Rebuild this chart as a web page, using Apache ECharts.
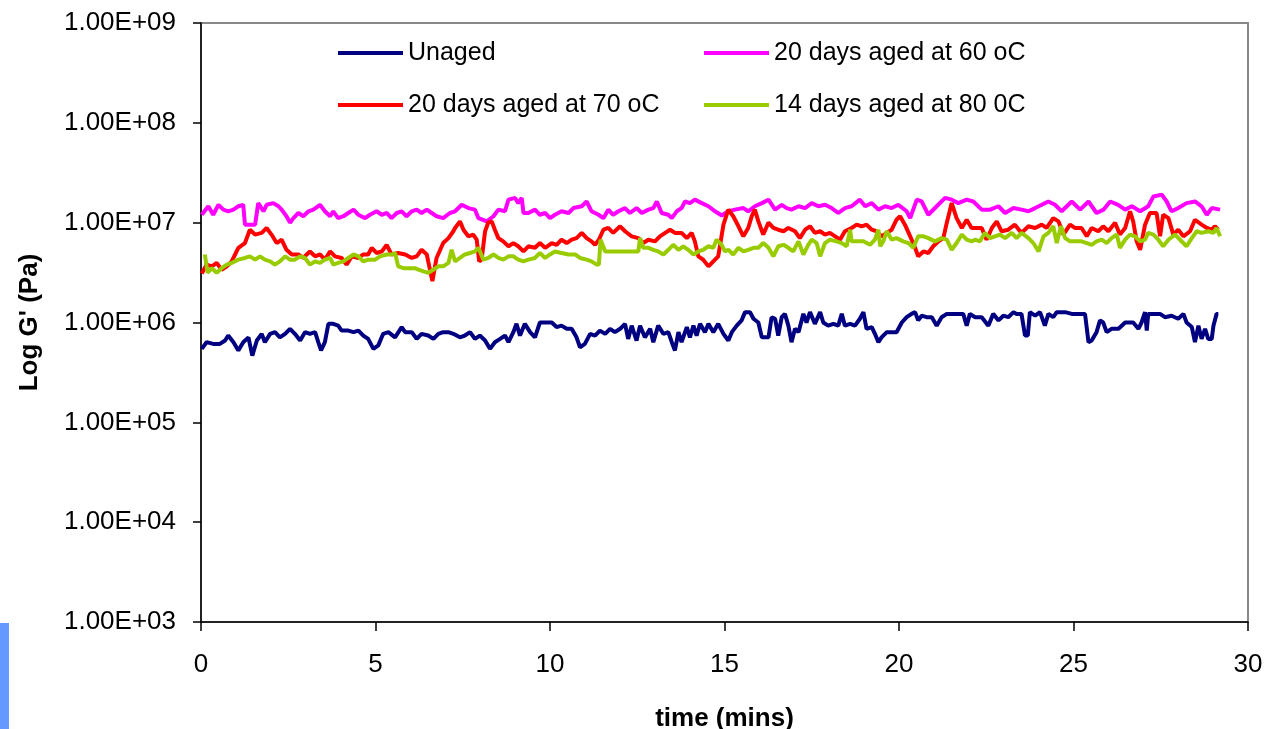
<!DOCTYPE html>
<html><head><meta charset="utf-8">
<script src="https://cdn.jsdelivr.net/npm/echarts@6/dist/echarts.min.js"></script>
<style>html,body{margin:0;padding:0;background:#fff}#c{width:1267px;height:729px}</style>
</head><body><div id="c"></div>
<script>
const seriesNames = ['Unaged', '20 days aged at 60 oC', '20 days aged at 70 oC', '14 days aged at 80 0C'];
const xTicks = [0, 5, 10, 15, 20, 25, 30];
const yTickLabels = {3:'1.00E+03',4:'1.00E+04',5:'1.00E+05',6:'1.00E+06',7:'1.00E+07',8:'1.00E+08',9:'1.00E+09'};

const unaged = [[0.02,5.45e5],[0.16,6.35e5],[0.35,6.1e5],[0.54,6.1e5],[0.69,6.6e5],[0.78,7.4e5],[0.93,6.35e5],[1.07,5.25e5],[1.21,6.35e5],[1.36,7.1e5],[1.47,4.65e5],[1.60,6.6e5],[1.74,7.7e5],[1.83,6.35e5],[1.98,7.7e5],[2.12,8.0e5],[2.26,7.1e5],[2.41,7.7e5],[2.55,8.65e5],[2.69,7.7e5],[2.84,6.6e5],[2.98,8.0e5],[3.12,7.7e5],[3.27,8.0e5],[3.36,6.35e5],[3.44,5.25e5],[3.55,6.35e5],[3.65,9.7e5],[3.79,9.7e5],[3.93,9.3e5],[4.03,8.3e5],[4.22,8.3e5],[4.37,8.0e5],[4.51,8.3e5],[4.65,7.4e5],[4.79,6.85e5],[4.94,5.45e5],[5.08,5.9e5],[5.22,7.7e5],[5.37,8.0e5],[5.56,7.1e5],[5.75,9.0e5],[5.85,8.0e5],[6.04,8.0e5],[6.18,6.85e5],[6.32,7.7e5],[6.51,7.4e5],[6.66,6.85e5],[6.80,7.7e5],[6.94,8.0e5],[7.09,8.0e5],[7.23,7.7e5],
[7.28,8.0e5],[7.42,7.1e5],[7.56,7.4e5],[7.71,8.0e5],[7.85,6.85e5],[7.99,7.4e5],[8.14,6.6e5],[8.28,5.45e5],[8.42,6.35e5],[8.57,6.85e5],[8.71,7.4e5],[8.81,6.35e5],[8.95,8.0e5],[9.04,9.7e5],[9.14,7.4e5],[9.28,9.7e5],[9.43,8.0e5],[9.57,7.1e5],[9.71,1.0e6],[9.86,1.0e6],[10.05,1.0e6],[10.19,9.0e5],[10.33,9.3e5],[10.48,8.65e5],[10.62,8.65e5],[10.76,7.1e5],[10.86,5.65e5],[11.0,6.1e5],[11.15,7.7e5],[11.29,7.4e5],[11.43,8.3e5],[11.58,7.7e5],[11.72,8.65e5],[11.86,8.0e5],[12.01,8.65e5],[12.15,9.7e5],[12.24,6.85e5],[12.34,9.3e5],[12.48,6.6e5],[12.58,9.3e5],[12.72,7.1e5],[12.87,8.65e5],[12.96,6.35e5],[13.10,9.3e5],[13.25,7.7e5],[13.39,8.0e5],[13.49,6.35e5],[13.58,5.25e5],[13.68,8.0e5],[13.77,6.35e5],[13.92,9.0e5],[14.01,7.1e5],[14.11,9.3e5],[14.20,7.4e5],[14.30,9.7e5],[14.44,8.0e5],[14.54,9.7e5],[14.68,8.0e5],[14.82,9.7e5],
[14.97,7.7e5],[15.11,6.6e5],[15.21,8.0e5],[15.35,9.3e5],[15.49,1.05e6],[15.59,1.27e6],[15.73,1.27e6],[15.83,1.09e6],[15.97,1.0e6],[16.07,7.1e5],[16.26,7.1e5],[16.35,1.13e6],[16.45,1.09e6],[16.54,7.4e5],[16.64,1.13e6],[16.73,1.22e6],[16.83,9.3e5],[16.92,6.35e5],[17.02,8.65e5],[17.12,8.0e5],[17.26,1.22e6],[17.35,1.0e6],[17.45,1.27e6],[17.59,9.7e5],[17.74,1.27e6],[17.83,1.0e6],[17.97,9.3e5],[18.12,9.7e5],[18.26,9.3e5],[18.36,1.22e6],[18.45,9.3e5],[18.60,9.7e5],[18.74,9.3e5],[18.88,1.09e6],[18.98,1.27e6],[19.07,8.65e5],[19.22,9.0e5],[19.31,7.7e5],[19.41,6.35e5],[19.50,7.1e5],[19.65,8.0e5],[19.79,8.0e5],[19.93,8.0e5],[20.08,1.0e6],[20.22,1.13e6],[20.36,1.22e6],[20.46,1.27e6],[20.55,1.05e6],[20.65,1.17e6],[20.79,1.13e6],[20.94,1.13e6],[21.08,9.3e5],[21.22,1.13e6],[21.37,1.22e6],[21.51,1.22e6],[21.70,1.22e6],[21.84,1.22e6],[21.94,9.3e5],[22.03,1.22e6],
[22.18,1.13e6],[22.37,1.13e6],[22.56,9.3e5],[22.70,1.22e6],[22.85,1.05e6],[22.99,1.17e6],[23.13,1.13e6],[23.28,1.27e6],[23.37,1.22e6],[23.51,1.22e6],[23.61,7.4e5],[23.69,7.4e5],[23.75,1.27e6],[23.90,1.17e6],[24.04,1.27e6],[24.18,9.3e5],[24.28,1.22e6],[24.42,1.13e6],[24.52,1.27e6],[24.76,1.27e6],[24.95,1.22e6],[25.33,1.22e6],[25.43,6.35e5],[25.52,6.6e5],[25.66,8.0e5],[25.76,1.05e6],[25.85,1.0e6],[25.95,8.0e5],[26.09,8.65e5],[26.29,8.65e5],[26.48,1.0e6],[26.71,1.0e6],[26.86,8.65e5],[26.95,1.0e6],[27.05,1.27e6],[27.10,8.3e5],[27.14,1.22e6],[27.38,1.22e6],[27.48,1.22e6],[27.62,1.13e6],[27.81,1.17e6],[28.0,1.09e6],[28.15,1.22e6],[28.24,1.0e6],[28.39,9.0e5],[28.48,6.35e5],[28.58,9.3e5],[28.67,6.85e5],[28.77,8.65e5],[28.86,6.85e5],[28.96,6.85e5],[29.01,9.3e5],[29.10,1.22e6],[29.15,1.22e6]];

const aged60 = [[0.02,1.20e7],[0.21,1.46e7],[0.35,1.20e7],[0.50,1.51e7],[0.64,1.35e7],[0.78,1.30e7],[0.93,1.35e7],[1.07,1.46e7],[1.21,1.51e7],[1.26,0.955e7],[1.55,0.955e7],[1.64,1.57e7],[1.79,1.30e7],[1.88,1.51e7],[2.07,1.57e7],[2.22,1.46e7],[2.31,1.35e7],[2.45,1.16e7],[2.55,1.0e7],[2.65,1.11e7],[2.79,1.25e7],[2.93,1.16e7],[3.08,1.30e7],[3.22,1.35e7],[3.41,1.51e7],[3.55,1.30e7],[3.70,1.16e7],[3.79,1.30e7],[3.93,1.11e7],[4.08,1.16e7],[4.22,1.25e7],[4.37,1.35e7],[4.51,1.20e7],[4.70,1.11e7],[4.84,1.20e7],[5.03,1.30e7],[5.18,1.20e7],[5.32,1.25e7],[5.46,1.11e7],[5.61,1.25e7],[5.75,1.30e7],[5.89,1.16e7],[6.04,1.30e7],[6.18,1.35e7],[6.32,1.25e7],[6.47,1.35e7],[6.61,1.25e7],[6.75,1.16e7],[6.94,1.11e7],[7.13,1.25e7],[7.28,1.30e7],
[7.47,1.51e7],[7.66,1.40e7],[7.85,1.35e7],[7.95,1.11e7],[8.19,1.03e7],[8.38,1.16e7],[8.52,1.35e7],[8.71,1.30e7],[8.81,1.70e7],[9.0,1.77e7],[9.09,1.57e7],[9.19,1.77e7],[9.24,1.25e7],[9.38,1.25e7],[9.57,1.35e7],[9.71,1.20e7],[9.86,1.25e7],[10.0,1.11e7],[10.14,1.20e7],[10.33,1.30e7],[10.53,1.25e7],[10.67,1.40e7],[10.91,1.46e7],[11.05,1.63e7],[11.19,1.30e7],[11.39,1.20e7],[11.53,1.11e7],[11.67,1.35e7],[11.81,1.20e7],[11.96,1.30e7],[12.15,1.40e7],[12.29,1.25e7],[12.48,1.40e7],[12.63,1.25e7],[12.82,1.35e7],[12.96,1.40e7],[13.06,1.63e7],[13.20,1.25e7],[13.39,1.20e7],[13.49,1.11e7],[13.63,1.30e7],[13.77,1.40e7],[13.87,1.63e7],[14.01,1.57e7],[14.15,1.70e7],[14.35,1.57e7],[14.54,1.46e7],[14.73,1.30e7],[14.92,1.18e7],
[15.11,1.30e7],[15.30,1.35e7],[15.54,1.40e7],[15.68,1.30e7],[15.87,1.46e7],[16.07,1.57e7],[16.26,1.70e7],[16.45,1.35e7],[16.64,1.51e7],[16.78,1.40e7],[16.92,1.35e7],[17.12,1.46e7],[17.31,1.40e7],[17.50,1.57e7],[17.69,1.46e7],[17.88,1.51e7],[18.07,1.40e7],[18.26,1.25e7],[18.45,1.40e7],[18.64,1.46e7],[18.88,1.70e7],[19.03,1.46e7],[19.22,1.57e7],[19.41,1.35e7],[19.60,1.46e7],[19.79,1.40e7],[19.98,1.51e7],[20.22,1.30e7],[20.32,1.11e7],[20.51,1.70e7],[20.65,1.63e7],[20.84,1.20e7],[21.08,1.46e7],[21.32,1.77e7],[21.51,1.70e7],[21.70,1.57e7],[21.94,1.70e7],[22.13,1.63e7],
[22.37,1.35e7],[22.61,1.35e7],[22.85,1.46e7],[23.04,1.25e7],[23.28,1.40e7],[23.51,1.35e7],[23.71,1.30e7],[23.90,1.40e7],[24.09,1.51e7],[24.28,1.63e7],[24.47,1.51e7],[24.66,1.30e7],[24.95,1.63e7],[25.19,1.35e7],[25.43,1.63e7],[25.66,1.25e7],[25.86,1.35e7],[26.05,1.63e7],[26.28,1.51e7],[26.48,1.35e7],[26.67,1.46e7],[26.91,1.30e7],[27.14,1.46e7],[27.29,1.83e7],[27.53,1.91e7],[27.67,1.63e7],[27.81,1.30e7],[28.00,1.40e7],[28.24,1.57e7],[28.48,1.63e7],[28.67,1.46e7],[28.82,1.20e7],[28.96,1.40e7],[29.2,1.35e7]];

const aged70 = [[0.02,3.1e6],[0.16,3.8e6],[0.31,3.65e6],[0.45,3.95e6],[0.59,3.38e6],[0.74,3.65e6],[0.88,4.1e6],[1.07,5.6e6],[1.26,6.25e6],[1.40,8.5e6],[1.55,7.6e6],[1.74,7.9e6],[1.88,8.85e6],[2.02,7.6e6],[2.17,6.25e6],[2.31,6.75e6],[2.45,5.35e6],[2.60,4.8e6],[2.79,4.8e6],[2.93,4.43e6],[3.12,5.15e6],[3.27,4.6e6],[3.41,4.8e6],[3.55,4.26e6],[3.70,5.15e6],[3.84,4.6e6],[4.03,4.43e6],[4.17,3.8e6],[4.32,4.6e6],[4.51,4.43e6],[4.65,4.8e6],[4.79,4.8e6],[4.89,5.6e6],[5.03,4.97e6],[5.18,5.15e6],[5.32,6.0e6],[5.46,4.8e6],[5.65,4.97e6],[5.85,4.8e6],[6.04,4.43e6],[6.18,4.6e6],[6.32,5.35e6],[6.47,4.8e6],[6.51,4.1e6],[6.63,2.6e6],[6.75,4.43e6],[6.94,6.25e6],[7.09,7.0e6],[7.23,8.2e6],
[7.28,8.85e6],[7.42,1.03e7],[7.52,8.5e6],[7.66,7.3e6],[7.80,7.6e6],[7.90,6.75e6],[7.97,4.1e6],[8.04,4.26e6],[8.14,8.2e6],[8.23,1.0e7],[8.33,1.03e7],[8.42,8.5e6],[8.52,7.0e6],[8.66,6.5e6],[8.81,5.8e6],[8.95,6.25e6],[9.09,5.8e6],[9.24,5.15e6],[9.38,5.8e6],[9.57,5.6e6],[9.71,6.25e6],[9.86,5.6e6],[10.05,6.25e6],[10.19,6.0e6],[10.33,6.75e6],[10.48,6.25e6],[10.62,6.75e6],[10.76,7.0e6],[10.91,7.9e6],[11.05,7.0e6],[11.19,6.5e6],[11.29,6.0e6],[11.40,6.75e6],[11.53,8.5e6],[11.67,8.85e6],[11.81,7.9e6],[12.01,9.2e6],[12.15,8.2e6],[12.34,7.3e6],[12.53,7.0e6],[12.67,6.25e6],[12.82,6.75e6],[13.01,6.5e6],[13.15,7.3e6],[13.30,7.9e6],[13.44,8.5e6],[13.58,7.9e6],[13.77,7.9e6],[13.92,7.0e6],[14.06,7.9e6],[14.15,6.5e6],[14.25,4.6e6],[14.39,4.26e6],[14.54,3.65e6],[14.68,4.1e6],[14.82,4.6e6],
[14.97,9.55e6],[15.11,1.35e7],[15.25,1.16e7],[15.40,9.2e6],[15.54,7.3e6],[15.68,8.85e6],[15.78,1.16e7],[15.87,1.35e7],[15.97,1.03e7],[16.11,7.6e6],[16.26,1.0e7],[16.40,8.85e6],[16.54,8.5e6],[16.69,8.2e6],[16.83,8.85e6],[17.02,8.2e6],[17.16,7.0e6],[17.31,8.5e6],[17.45,9.2e6],[17.59,7.9e6],[17.74,8.2e6],[17.88,7.6e6],[18.02,7.9e6],[18.17,7.3e6],[18.31,6.75e6],[18.45,8.2e6],[18.64,8.85e6],[18.79,9.55e6],[18.93,9.2e6],[19.07,9.55e6],[19.22,8.5e6],[19.36,8.2e6],[19.50,7.3e6],[19.65,7.9e6],[19.79,8.5e6],[19.93,1.07e7],[20.03,1.16e7],[20.17,9.55e6],[20.32,7.3e6],[20.46,5.6e6],[20.55,4.6e6],[20.70,5.15e6],[20.84,4.97e6],[20.98,5.8e6],[21.13,6.5e6],[21.27,7.0e6],[21.37,1.0e7],[21.51,1.57e7],[21.65,1.11e7],[21.80,8.85e6],[21.94,1.07e7],[22.08,8.85e6],
[22.18,8.85e6],[22.37,8.85e6],[22.51,6.75e6],[22.66,8.85e6],[22.80,1.03e7],[22.94,8.2e6],[23.13,8.5e6],[23.32,9.55e6],[23.51,7.9e6],[23.71,9.2e6],[23.90,8.85e6],[24.09,9.55e6],[24.23,8.85e6],[24.42,1.11e7],[24.57,1.03e7],[24.71,7.6e6],[24.90,9.55e6],[25.04,8.85e6],[25.23,8.85e6],[25.38,7.3e6],[25.52,8.85e6],[25.71,8.2e6],[25.85,9.2e6],[26.00,8.2e6],[26.19,1.0e7],[26.33,7.6e6],[26.48,8.85e6],[26.62,1.30e7],[26.71,1.03e7],[26.81,6.5e6],[26.91,5.35e6],[27.05,9.55e6],[27.19,1.25e7],[27.38,1.25e7],[27.48,7.3e6],[27.57,1.20e7],[27.72,1.11e7],[27.86,7.6e6],[28.00,8.5e6],[28.15,7.3e6],[28.34,8.2e6],[28.48,1.07e7],[28.67,9.55e6],[28.82,8.85e6],[28.96,8.5e6],[29.05,9.2e6],[29.15,8.5e6]];

const aged80 = [[0.11,4.8e6],[0.19,3.15e6],[0.31,3.5e6],[0.45,3.15e6],[0.59,3.5e6],[0.74,3.8e6],[0.88,3.95e6],[1.07,4.26e6],[1.26,4.43e6],[1.40,4.6e6],[1.55,4.26e6],[1.69,4.6e6],[1.83,4.26e6],[1.98,4.1e6],[2.12,3.8e6],[2.26,4.1e6],[2.41,4.6e6],[2.55,4.26e6],[2.69,4.26e6],[2.84,4.6e6],[2.98,4.43e6],[3.12,3.8e6],[3.27,4.1e6],[3.41,3.95e6],[3.55,4.26e6],[3.70,4.43e6],[3.79,3.8e6],[3.93,3.95e6],[4.08,4.1e6],[4.22,4.43e6],[4.37,4.8e6],[4.51,4.6e6],[4.65,4.1e6],[4.79,4.26e6],[4.99,4.26e6],[5.13,4.6e6],[5.32,4.8e6],[5.46,4.8e6],[5.56,4.97e6],[5.65,3.65e6],[5.80,3.5e6],[5.99,3.5e6],[6.13,3.5e6],[6.23,3.38e6],[6.37,3.25e6],[6.51,3.15e6],[6.66,3.38e6],[6.80,3.65e6],[6.94,3.65e6],[7.09,3.95e6],[7.18,5.35e6],
[7.28,4.1e6],[7.42,4.43e6],[7.56,4.8e6],[7.71,4.97e6],[7.85,5.15e6],[7.95,5.6e6],[8.09,4.26e6],[8.23,4.43e6],[8.38,4.8e6],[8.52,4.43e6],[8.66,4.26e6],[8.81,4.6e6],[8.95,4.6e6],[9.09,4.26e6],[9.24,4.1e6],[9.38,4.26e6],[9.57,4.43e6],[9.71,4.97e6],[9.86,4.43e6],[10.0,4.8e6],[10.14,5.15e6],[10.33,4.97e6],[10.53,4.8e6],[10.72,4.8e6],[10.86,4.43e6],[11.05,4.26e6],[11.19,4.1e6],[11.34,3.8e6],[11.40,3.8e6],[11.45,6.75e6],[11.58,5.15e6],[12.53,5.15e6],[12.58,7.0e6],[12.67,5.6e6],[12.82,5.6e6],[12.96,5.35e6],[13.10,5.15e6],[13.25,4.8e6],[13.39,5.35e6],[13.53,6.0e6],[13.68,5.35e6],[13.82,5.8e6],[13.96,5.35e6],[14.11,4.8e6],[14.25,5.15e6],[14.39,5.35e6],[14.54,5.8e6],[14.68,5.6e6],[14.77,6.75e6],[14.92,6.0e6],[15.01,5.15e6],
[15.11,5.35e6],[15.25,4.8e6],[15.40,5.6e6],[15.54,5.15e6],[15.68,5.35e6],[15.83,5.6e6],[15.97,5.6e6],[16.11,6.25e6],[16.26,5.6e6],[16.40,4.6e6],[16.54,5.8e6],[16.69,6.0e6],[16.83,5.6e6],[16.97,5.15e6],[17.12,6.5e6],[17.26,4.8e6],[17.40,6.0e6],[17.50,6.75e6],[17.64,6.25e6],[17.74,4.6e6],[17.88,6.25e6],[18.02,6.75e6],[18.21,6.5e6],[18.36,6.25e6],[18.50,5.8e6],[18.60,8.5e6],[18.64,6.5e6],[18.79,6.5e6],[18.98,6.5e6],[19.17,6.0e6],[19.31,6.75e6],[19.41,8.5e6],[19.46,5.8e6],[19.55,6.5e6],[19.65,8.2e6],[19.79,6.75e6],[19.93,7.0e6],[20.12,6.5e6],[20.27,6.25e6],[20.41,5.6e6],[20.55,7.3e6],[20.70,7.3e6],[20.84,7.0e6],[21.03,6.5e6],[21.22,7.0e6],[21.37,6.75e6],[21.51,5.35e6],[21.65,6.25e6],[21.80,7.6e6],[21.94,6.75e6],[22.08,6.5e6],
[22.18,6.75e6],[22.32,6.5e6],[22.46,7.9e6],[22.61,7.0e6],[22.75,7.3e6],[22.89,7.6e6],[23.04,7.0e6],[23.23,7.9e6],[23.37,7.0e6],[23.51,7.9e6],[23.71,7.0e6],[23.85,6.25e6],[24.0,5.15e6],[24.14,7.3e6],[24.28,7.9e6],[24.42,9.2e6],[24.52,6.25e6],[24.64,9.2e6],[24.76,7.0e6],[24.90,6.5e6],[25.04,6.5e6],[25.23,6.5e6],[25.38,6.25e6],[25.52,6.0e6],[25.66,6.5e6],[25.81,6.75e6],[25.95,6.25e6],[26.09,7.0e6],[26.24,7.6e6],[26.33,5.6e6],[26.48,6.75e6],[26.62,7.6e6],[26.76,7.3e6],[26.91,6.5e6],[27.05,6.75e6],[27.14,7.9e6],[27.29,7.6e6],[27.43,6.75e6],[27.57,5.8e6],[27.72,6.75e6],[27.91,7.6e6],[28.05,6.75e6],[28.24,5.8e6],[28.39,7.0e6],[28.53,8.2e6],[28.67,7.9e6],[28.86,8.2e6],[29.01,7.9e6],[29.10,8.85e6],[29.2,7.3e6]];

const colors = ['#000080', '#FF00FF', '#FF0000', '#99CC00'];
const allData = [unaged, aged60, aged70, aged80];
const FONT = 'Liberation Sans, Arial, sans-serif';

const legendText = {fontFamily: FONT, fontSize: 25, color: '#000', lineHeight: 28};
const chart = echarts.init(document.getElementById('c'), null, {renderer: 'canvas'});
chart.setOption({
  animation: false,
  backgroundColor: '#ffffff',
  grid: {left: 201, top: 23, right: 19, bottom: 107, containLabel: false, outerBoundsMode: 'none',
         show: true, borderColor: '#888888', borderWidth: 2, backgroundColor: 'transparent'},
  legend: [
    {orient: 'vertical', left: 333, top: 34, itemWidth: 65, itemHeight: 4, itemGap: 24, icon: 'rect',
     data: [seriesNames[0], seriesNames[2]], textStyle: legendText},
    {orient: 'vertical', left: 699, top: 34, itemWidth: 65, itemHeight: 4, itemGap: 24, icon: 'rect',
     data: [seriesNames[1], seriesNames[3]], textStyle: legendText}
  ],
  xAxis: {
    type: 'value', min: xTicks[0], max: xTicks[xTicks.length - 1], interval: 5,
    name: 'time (mins)', nameLocation: 'middle', nameGap: 84,
    nameTextStyle: {fontFamily: FONT, fontSize: 26, fontWeight: 'bold', color: '#000'},
    axisLine: {show: true, onZero: false, lineStyle: {color: '#000', width: 1.5}},
    axisTick: {show: true, inside: false, length: 9, lineStyle: {color: '#000', width: 1.5}},
    axisLabel: {fontFamily: FONT, fontSize: 26, color: '#000', margin: 30},
    splitLine: {show: false}
  },
  yAxis: {
    type: 'log', logBase: 10, min: 1e3, max: 1e9, interval: 1,
    name: "Log G' (Pa)", nameLocation: 'middle', nameGap: 158, nameRotate: 90,
    nameTextStyle: {fontFamily: FONT, fontSize: 26, fontWeight: 'bold', color: '#000'},
    axisLine: {show: true, lineStyle: {color: '#000', width: 1.5}},
    axisTick: {show: true, inside: false, length: 8, lineStyle: {color: '#000', width: 1.5}},
    axisLabel: {fontFamily: FONT, fontSize: 26, color: '#000', margin: 25,
      formatter: v => yTickLabels[Math.round(Math.log10(v))] || ''},
    splitLine: {show: false}
  },
  series: allData.map((d, i) => ({
    name: seriesNames[i], type: 'line', data: d, showSymbol: false, symbol: 'none',
    lineStyle: {color: colors[i], width: 4}, itemStyle: {color: colors[i]}, z: 2 + i
  })),
  graphic: [
    {type: 'rect', left: 0, top: 623, shape: {width: 9, height: 106}, style: {fill: '#6699FF'}, silent: true}
  ]
});
</script></body></html>
